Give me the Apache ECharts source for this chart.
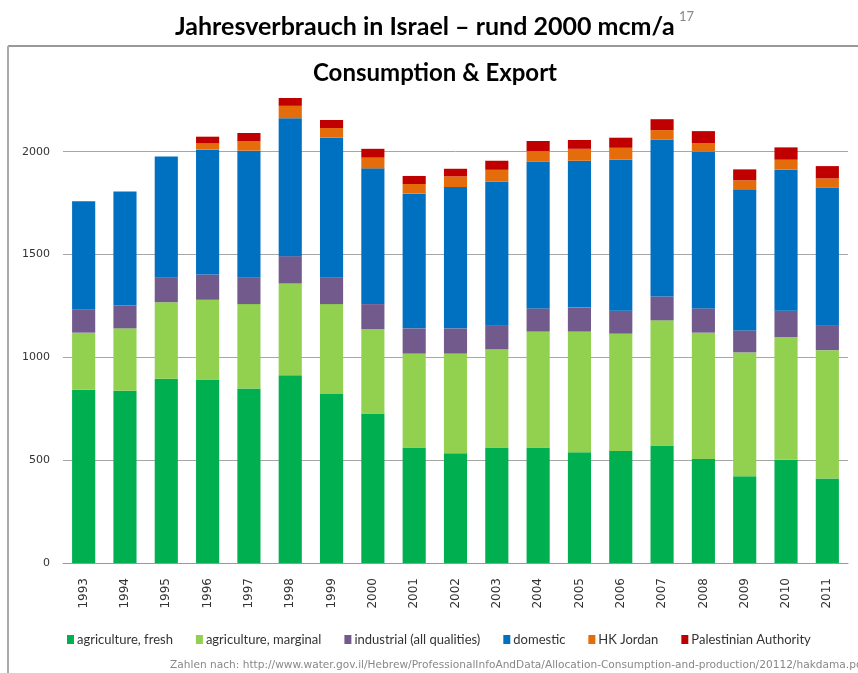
<!DOCTYPE html>
<html>
<head>
<meta charset="utf-8">
<script src="https://cdn.jsdelivr.net/npm/echarts@6/dist/echarts.min.js"></script>
<style>
html,body{margin:0;padding:0;background:#fff;}
#chart{width:858px;height:673px;}
</style>
</head>
<body>
<div id="chart"></div>
<script>
const years = ['1993','1994','1995','1996','1997','1998','1999','2000','2001','2002','2003','2004','2005','2006','2007','2008','2009','2010','2011'];
const agricultureFresh = [843,838,896,892,849,913,822,727,562,534,562,562,539,545,571,506,422,502,411];
const agricultureMarginal = [277,303,372,388,410,446,437,409,456,484,478,563,586,570,609,614,602,597,624];
const industrial = [111,111,119,123,128,133,128,123,123,123,117,113,118,112,116,118,107,128,122];
const domestic = [528,555,590,607,618,671,681,660,655,687,697,713,713,734,762,762,686,687,667];
const hkJordan = [null,null,null,30,47,60,47,52,47,52,58,52,58,58,47,42,44,47,46];
const palestinianAuthority = [null,null,null,33,39,38,39,43,39,37,44,49,43,49,53,58,53,60,60];
const yMin = 0, yMax = 2300, yInterval = 500;

const seriesNames = ['agriculture, fresh','agriculture, marginal','industrial (all qualities)','domestic','HK Jordan','Palestinian Authority'];
const seriesData = [agricultureFresh, agricultureMarginal, industrial, domestic, hkJordan, palestinianAuthority];
const colors = ['#00b050','#92d050','#725a8c','#0070c0','#e46c0a','#c00000'];

const chart = echarts.init(document.getElementById('chart'));
chart.setOption({
  animation: false,
  color: colors,
  textStyle: {fontFamily: 'Lato'},
  grid: {left: 63, right: 10, top: 90, bottom: 110, containLabel: false},
  legend: {
    data: seriesNames,
    left: 62, top: 628,
    icon: 'rect', itemWidth: 7, itemHeight: 9, itemGap: 23,
    textStyle: {fontSize: 13, color: '#333', fontFamily: 'Lato', padding: [0,0,0,-2]}
  },
  xAxis: {
    type: 'category', data: years,
    axisLine: {lineStyle: {color: '#999', width: 1}},
    axisTick: {show: false},
    axisLabel: {rotate: 90, fontSize: 12, color: '#333', margin: 15, fontFamily: 'DejaVu Sans', interval: 0}
  },
  yAxis: {
    type: 'value', min: yMin, max: yMax, interval: yInterval,
    axisLine: {show: false}, axisTick: {show: false},
    axisLabel: {fontSize: 11, color: '#333', margin: 13, showMaxLabel: false, fontFamily: 'DejaVu Sans', formatter: v => String(v)},
    splitLine: {show: true, showMaxLine: false, lineStyle: {color: '#a6a6a6', width: 1}}
  },
  series: seriesNames.map((n, i) => ({
    name: n, type: 'bar', stack: 'total', data: seriesData[i],
    barCategoryGap: '44%',
    itemStyle: {color: colors[i]}
  })),
  graphic: [
    {type: 'line', shape: {x1: 8, y1: 46, x2: 858, y2: 46}, style: {stroke: '#999', lineWidth: 2}},
    {type: 'line', shape: {x1: 8, y1: 46, x2: 8, y2: 673}, style: {stroke: '#aaa', lineWidth: 2}},
    {type: 'text', left: 175, top: 14, style: {text: 'Jahresverbrauch in Israel – rund 2000 mcm/a', font: 'bold 25px Lato', fill: '#000'}},
    {type: 'text', left: 679, top: 10, style: {text: '17', font: '13px Lato', fill: '#888'}},
    {type: 'text', left: 313, top: 61, style: {text: 'Consumption & Export', font: 'bold 24px Lato', fill: '#000'}},
    {type: 'text', left: 170, top: 660, style: {text: 'Zahlen nach: http://www.water.gov.il/Hebrew/ProfessionalInfoAndData/Allocation-Consumption-and-production/20112/hakdama.pdf', font: '10.6px DejaVu Sans', fill: '#888'}}
  ]
});
</script>
</body>
</html>
